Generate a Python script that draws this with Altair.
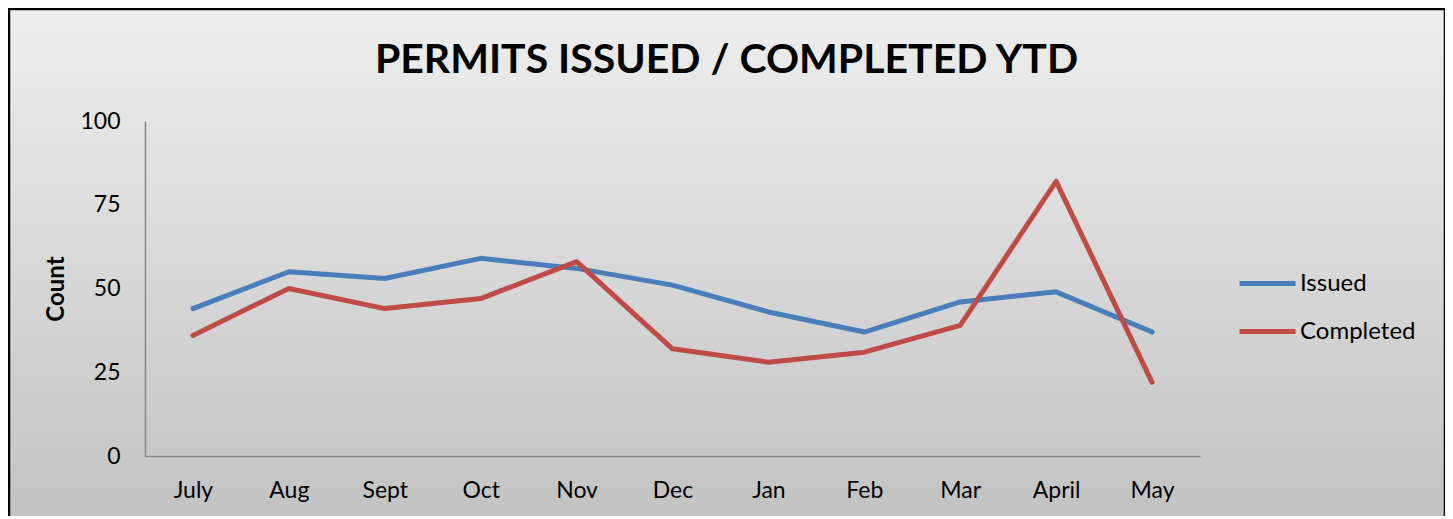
import altair as alt
import pandas as pd

months = ["July", "Aug", "Sept", "Oct", "Nov", "Dec", "Jan", "Feb", "Mar", "April", "May"]
issued = [44, 55, 53, 59, 56, 51, 43, 37, 46, 49, 37]
completed = [36, 50, 44, 47, 58, 32, 28, 31, 39, 82, 22]
series = ["Issued", "Completed"]
colors = ["#4a7ebb", "#be4b48"]
y_ticks = [0, 25, 50, 75, 100]

rows = []
for m, v in zip(months, issued):
    rows.append({"Month": m, "Series": "Issued", "Count": v})
for m, v in zip(months, completed):
    rows.append({"Month": m, "Series": "Completed", "Count": v})
df = pd.DataFrame(rows)

W, H = 1055, 335
FONT = "Lato"

bg = alt.Chart(pd.DataFrame({"a": [0]})).mark_rect(
    fill=alt.LinearGradient(
        gradient="linear",
        stops=[alt.GradientStop(color="#eeeeee", offset=0),
               alt.GradientStop(color="#c2c2c2", offset=1)],
        x1=0, x2=0, y1=0, y2=1,
    ),
    stroke="#000000",
    strokeWidth=2.5,
).encode(
    x=alt.value(-136), x2=alt.value(1300),
    y=alt.value(-112), y2=alt.value(405),
)

lines = alt.Chart(df).mark_line(strokeWidth=5, strokeCap="round", strokeJoin="round").encode(
    x=alt.X("Month:N", sort=months,
            scale=alt.Scale(type="point", padding=0.5),
            axis=alt.Axis(title=None, labelAngle=0, ticks=False, domainColor="#868686",
                          domainWidth=1.5, labelFontSize=23, labelFont=FONT,
                          labelColor="#000000", labelPadding=23, grid=False, zindex=1)),
    y=alt.Y("Count:Q", scale=alt.Scale(domain=[0, 100], nice=False),
            axis=alt.Axis(title="Count", values=y_ticks, ticks=False, grid=False,
                          domainColor="#868686", domainWidth=1.5,
                          labelFontSize=23, labelFont=FONT, labelColor="#000000",
                          labelPadding=25, titleFont=FONT, titleFontSize=24,
                          titleFontWeight="bold", titleColor="#000000", titlePadding=11,
                          zindex=1)),
    color=alt.Color("Series:N", sort=series,
                    scale=alt.Scale(domain=series, range=colors),
                    legend=alt.Legend(title=None, orient="none", legendX=1092, legendY=132,
                                      symbolType="stroke", symbolSize=3136,
                                      symbolStrokeWidth=5, labelFontSize=24,
                                      labelFont=FONT, labelColor="#000000",
                                      labelOffset=2, rowPadding=5)),
)

chart = alt.layer(bg, lines).properties(
    width=W, height=H,
    title=alt.TitleParams("PERMITS ISSUED / COMPLETED YTD", font=FONT, fontSize=41,
                          fontWeight="bold", color="#000000", anchor="middle",
                          dx=54, offset=-74),
    autosize=alt.AutoSizeParams(type="none"),
    padding={"left": 137, "top": 113, "right": 245, "bottom": 60},
).configure(background="#ffffff").configure_view(stroke=None)

chart.save("out.html", embed_options={"renderer": "svg", "actions": False})
